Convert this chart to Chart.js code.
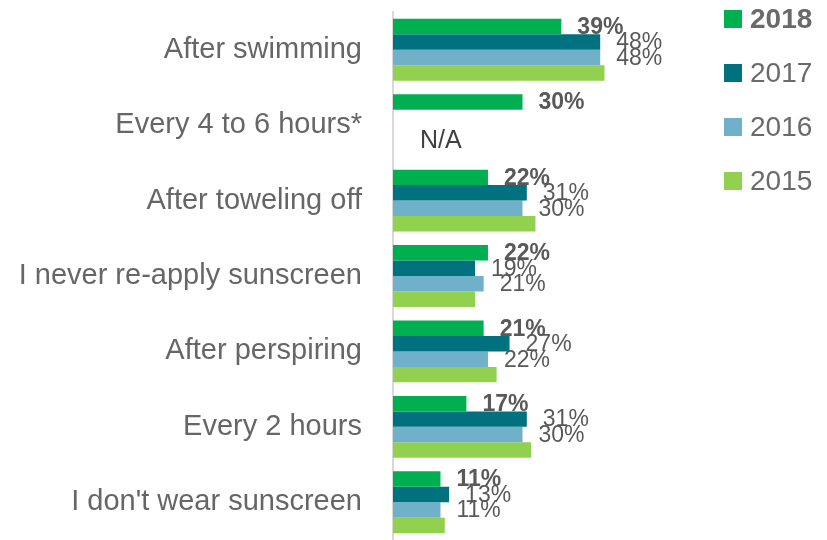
<!DOCTYPE html>
<html>
<head>
<meta charset="utf-8">
<script src="https://cdn.jsdelivr.net/npm/chart.js@4"></script>
<style>
  html, body { margin: 0; padding: 0; background: #fff; }
  #wrap { width: 827px; height: 540px; }
</style>
</head>
<body>
<div id="wrap"><canvas id="chart" width="827" height="540"></canvas></div>
<script>
// categories, top to bottom
const categories = [
  "After swimming",
  "Every 4 to 6 hours*",
  "After toweling off",
  "I never re-apply sunscreen",
  "After perspiring",
  "Every 2 hours",
  "I don't wear sunscreen"
];
const years = ["2018", "2017", "2016", "2015"];

// percent values per year (null = not asked that year)
const values2018 = [39, 30, 22, 22, 21, 17, 11];
const values2017 = [48, null, 31, 19, 27, 31, 13];
const values2016 = [48, null, 30, 21, 22, 30, 11];
const values2015 = [49, null, 33, 19, 24, 32, 12];
const naText = "N/A";

const colors = ["#00b050", "#00727f", "#70b0c8", "#92d050"];
const fontFamily = "'Liberation Sans', Arial, sans-serif";

// labels at the end of bars (2015 bars carry none)
const barLabels = {
  id: "barLabels",
  afterDatasetsDraw(chart) {
    const ctx = chart.ctx;
    ctx.save();
    ctx.textBaseline = "middle";
    ctx.textAlign = "left";
    ctx.fillStyle = "#595959";
    chart.data.datasets.forEach((ds, d) => {
      if (d === 3) return;
      ctx.font = (d === 0 ? "bold " : "") + "23px " + fontFamily;
      const meta = chart.getDatasetMeta(d);
      meta.data.forEach((bar, i) => {
        if (ds.data[i] == null) return;
        ctx.fillText(ds.data[i] + "%", bar.x + 16, bar.y + 1);
      });
    });

    // N/A where the older years have no value
    const xs = chart.scales.x;
    const ys = chart.scales.y;
    ctx.font = "25px " + fontFamily;
    ctx.fillStyle = "#404040";
    categories.forEach((c, i) => {
      if (values2017[i] == null) {
        ctx.fillText(naText, xs.getPixelForValue(0) + 27, ys.getPixelForValue(i) + 16);
      }
    });
    ctx.restore();
  }
};

// legend on the right, spaced like the original
const sideLegend = {
  id: "sideLegend",
  afterDraw(chart) {
    const ctx = chart.ctx;
    ctx.save();
    ctx.textBaseline = "middle";
    ctx.textAlign = "left";
    chart.data.datasets.forEach((ds, d) => {
      const top = 10 + d * 54;
      ctx.fillStyle = ds.backgroundColor;
      ctx.fillRect(724, top, 18, 18);
      ctx.fillStyle = "#6a6a6a";
      ctx.font = (d === 0 ? "bold " : "") + "28px " + fontFamily;
      ctx.fillText(ds.label, 750, top + 10);
    });
    ctx.restore();
  }
};

const seriesValues = [values2018, values2017, values2016, values2015];

new Chart(document.getElementById("chart"), {
  type: "bar",
  data: {
    labels: categories,
    datasets: years.map((y, i) => ({
      label: y,
      data: seriesValues[i],
      backgroundColor: colors[i],
      borderWidth: 0,
      categoryPercentage: 0.82,
      barPercentage: 1
    }))
  },
  options: {
    indexAxis: "y",
    responsive: false,
    animation: false,
    layout: { padding: { top: 12, right: 175, bottom: 0, left: 0 } },
    plugins: {
      legend: { display: false },
      tooltip: { enabled: false }
    },
    scales: {
      x: {
        display: false,
        min: 0,
        max: 60
      },
      y: {
        grid: { display: false, drawTicks: false },
        border: { display: true, color: "#d9d9d9", width: 2 },
        ticks: {
          padding: 31,
          color: "#666666",
          font: { family: fontFamily, size: 29 }
        },
        afterFit(axis) {
          axis.width = 393;
          axis.paddingTop = 0;
          axis.paddingBottom = 0;
        }
      }
    }
  },
  plugins: [barLabels, sideLegend]
});
</script>
</body>
</html>
